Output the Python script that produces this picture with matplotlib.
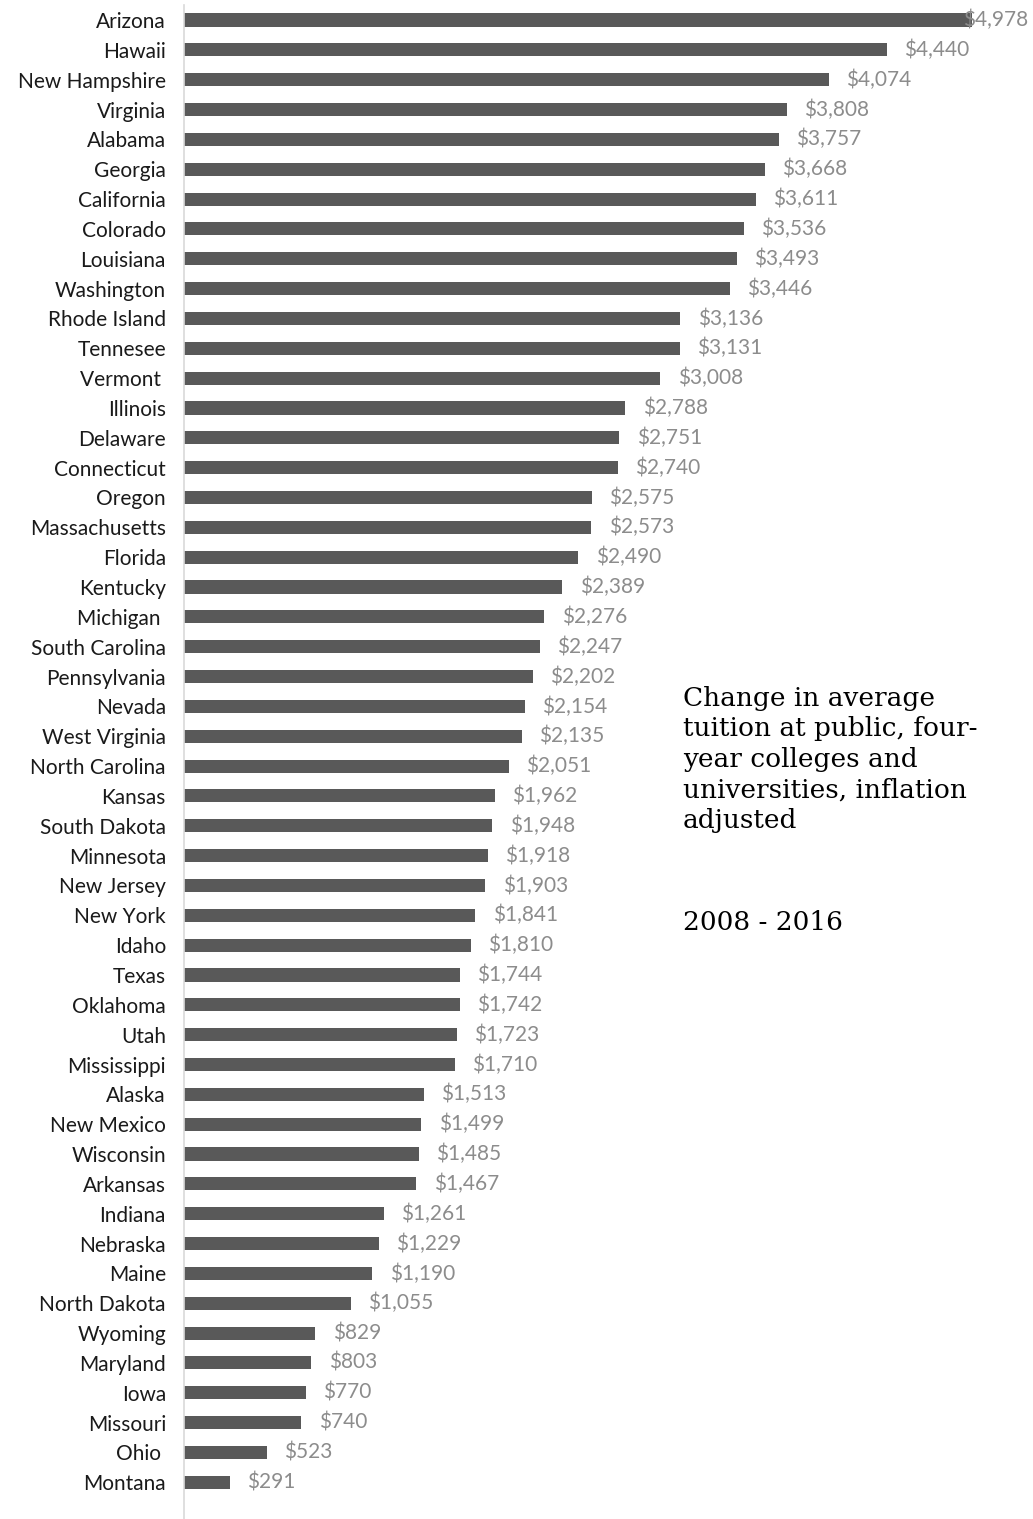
import numpy as np
import matplotlib.pyplot as plt

# States ordered as in the chart (top to bottom)
states = ['Arizona', 'Hawaii', 'New Hampshire', 'Virginia', 'Alabama', 'Georgia',
          'California', 'Colorado', 'Louisiana', 'Washington', 'Rhode Island',
          'Tennesee', 'Vermont ', 'Illinois', 'Delaware', 'Connecticut', 'Oregon',
          'Massachusetts', 'Florida', 'Kentucky', 'Michigan ', 'South Carolina',
          'Pennsylvania', 'Nevada', 'West Virginia', 'North Carolina', 'Kansas',
          'South Dakota', 'Minnesota', 'New Jersey', 'New York', 'Idaho', 'Texas',
          'Oklahoma', 'Utah', 'Mississippi', 'Alaska', 'New Mexico', 'Wisconsin',
          'Arkansas', 'Indiana', 'Nebraska', 'Maine', 'North Dakota', 'Wyoming',
          'Maryland', 'Iowa', 'Missouri', 'Ohio ', 'Montana']

# Change in tuition, 2008-2016 (dollars)
change = [4978, 4440, 4074, 3808, 3757, 3668, 3611, 3536, 3493, 3446, 3136,
          3131, 3008, 2788, 2751, 2740, 2575, 2573, 2490, 2389, 2276, 2247,
          2202, 2154, 2135, 2051, 1962, 1948, 1918, 1903, 1841, 1810, 1744,
          1742, 1723, 1710, 1513, 1499, 1485, 1467, 1261, 1229, 1190, 1055,
          829, 803, 770, 740, 523, 291]

note = ('Change in average\ntuition at public, four-\nyear colleges and\n'
        'universities, inflation\nadjusted')
years = '2008 - 2016'

W, H = 1033, 1519
fig = plt.figure(figsize=(W / 100, H / 100), dpi=100)
ax_left = 184 / W
top_px = 5.1
ax = fig.add_axes([ax_left, 0, 1 - ax_left, (H - top_px) / H])

y = np.arange(len(states))
ax.barh(y, change, height=0.44, color='#595959')
ax.set_ylim(50.23, -0.5)
xmax = (W - 184) / 0.1583
ax.set_xlim(0, xmax)

for yi, v in zip(y, change):
    lbl = '${:,}'.format(v)
    if v + 110 + 420 > xmax:
        # label would run off the chart, pull it back inside (as Excel does)
        ax.text(xmax - 30, yi, lbl, va='center', ha='right',
                fontsize=15, color='#8c8c8c', family='Lato')
    else:
        ax.text(v + 110, yi, lbl, va='center', ha='left',
                fontsize=15, color='#8c8c8c', family='Lato')

ax.set_yticks(y)
ax.set_yticklabels(states, fontsize=15, family='Lato', color='#1a1a1a')
ax.tick_params(axis='y', length=0, pad=13)
ax.set_xticks([])
for s in ['top', 'right', 'bottom']:
    ax.spines[s].set_visible(False)
ax.spines['left'].set_color('#d9d9d9')
ax.spines['left'].set_linewidth(1.2)

fig.text(683 / W, 1 - 686 / H, note, ha='left', va='top', fontsize=19,
         family='DejaVu Serif', linespacing=1.27, color='black')
fig.text(683 / W, 1 - 923 / H, years, ha='left', va='center', fontsize=19,
         family='DejaVu Serif', color='black')

plt.savefig('out.png', dpi=100)
